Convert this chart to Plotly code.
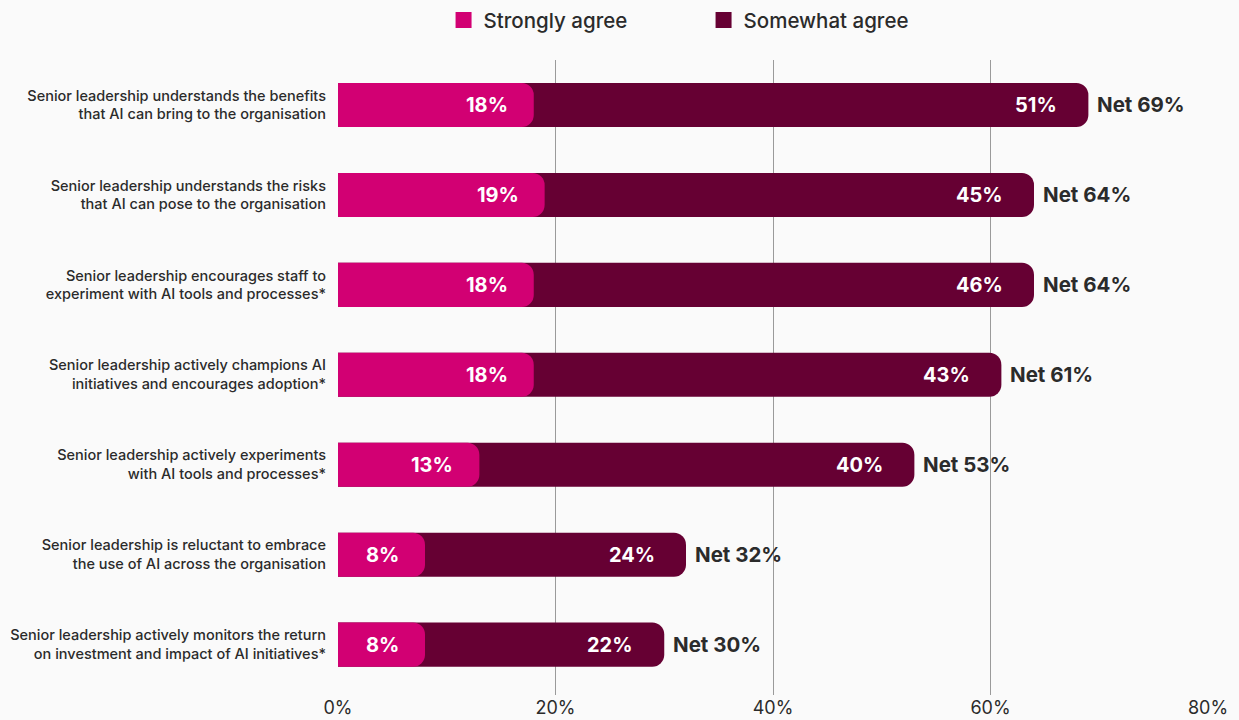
import plotly.graph_objects as go

categories = [
    "Senior leadership understands the benefits<br>that AI can bring to the organisation",
    "Senior leadership understands the risks<br>that AI can pose to the organisation",
    "Senior leadership encourages staff to<br>experiment with AI tools and processes*",
    "Senior leadership actively champions AI<br>initiatives and encourages adoption*",
    "Senior leadership actively experiments<br>with AI tools and processes*",
    "Senior leadership is reluctant to embrace<br>the use of AI across the organisation",
    "Senior leadership actively monitors the return<br>on investment and impact of AI initiatives*",
]
strongly_agree = [18, 19, 18, 18, 13, 8, 8]
somewhat_agree = [51, 45, 46, 43, 40, 24, 22]
net_agree = [s + w for s, w in zip(strongly_agree, somewhat_agree)]

x_ticks = [0, 20, 40, 60, 80]
x_tick_labels = ["0%", "20%", "40%", "60%", "80%"]

PINK = "#D20073"
PLUM = "#660033"
INK = "#2B2B2B"
FONT = "Inter"
Y_RANGE = [6.56, -0.5]

fig = go.Figure()

# Dark bar spans the full net share; the pink bar sits on a twin category
# axis so both bars get their own rounded end
fig.add_trace(go.Bar(
    y=categories, x=net_agree, orientation="h", name="Somewhat agree",
    marker=dict(color=PLUM, line=dict(width=0), cornerradius=12), width=0.49,
    hoverinfo="skip", showlegend=False,
))
fig.add_trace(go.Bar(
    y=categories, x=strongly_agree, orientation="h", name="Strongly agree",
    marker=dict(color=PINK, line=dict(width=0), cornerradius=12), width=0.49,
    hoverinfo="skip", showlegend=False, yaxis="y2",
))

# Legend entries
for name, color in [("Strongly agree", PINK), ("Somewhat agree", PLUM)]:
    fig.add_trace(go.Scatter(
        x=[None], y=[None], mode="markers", name=name,
        marker=dict(symbol="square", size=16, color=color),
    ))

annotations = []
for cat, s, w, n in zip(categories, strongly_agree, somewhat_agree, net_agree):
    annotations.append(dict(
        x=s, y=cat, text=f"{s}%", showarrow=False, xanchor="right", xshift=-24,
        font=dict(family=FONT, size=20, color="white", weight=700),
    ))
    annotations.append(dict(
        x=n, y=cat, text=f"{w}%", showarrow=False, xanchor="right", xshift=-29,
        font=dict(family=FONT, size=20, color="white", weight=700),
    ))
    annotations.append(dict(
        x=n, y=cat, text=f"Net {n}%", showarrow=False, xanchor="left", xshift=7,
        font=dict(family=FONT, size=20.5, color=INK, weight=700),
    ))

fig.update_layout(
    width=1239, height=720,
    barmode="overlay",
    paper_bgcolor="#FAFAFA", plot_bgcolor="#FAFAFA",
    margin=dict(l=338, r=31, t=60, b=25, autoexpand=False),
    font=dict(family=FONT, color=INK),
    showlegend=True,
    legend=dict(
        orientation="h", xref="container", x=0.358, xanchor="left",
        yref="container", y=0.972, yanchor="middle",
        font=dict(family=FONT, size=20.5, color=INK, weight=500),
        traceorder="normal", itemsizing="trace", bgcolor="rgba(0,0,0,0)",
        entrywidth=215, entrywidthmode="pixels",
    ),
    annotations=annotations,
    xaxis=dict(
        range=[0, 80], tickvals=x_ticks, ticktext=x_tick_labels,
        showgrid=True, gridcolor="#9A9A9A", gridwidth=1, zeroline=False,
        tickfont=dict(family=FONT, size=18, color=INK), ticks="",
        showline=False, fixedrange=True,
    ),
    yaxis=dict(
        categoryorder="array", categoryarray=categories,
        range=Y_RANGE, showgrid=False, zeroline=False,
        tickfont=dict(family=FONT, size=14.5, color=INK, weight=500),
        ticks="", ticklabelstandoff=11,
    ),
    yaxis2=dict(
        overlaying="y", categoryorder="array", categoryarray=categories,
        range=Y_RANGE, showgrid=False, zeroline=False, showticklabels=False,
        ticks="",
    ),
)

fig.write_html("out.html")
